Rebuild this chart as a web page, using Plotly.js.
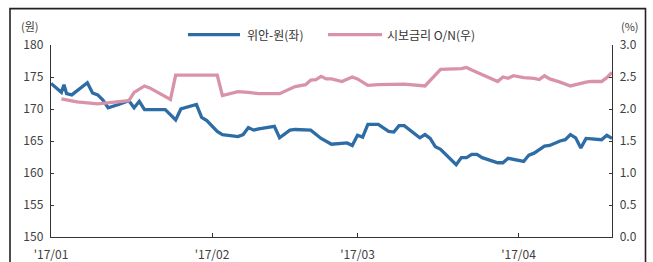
<!DOCTYPE html>
<html>
<head>
<meta charset="utf-8">
<script src="https://cdn.plot.ly/plotly-3.0.1.min.js"></script>
<style>
html,body{margin:0;padding:0;background:#fff;}
#chart{width:653px;height:262px;}
</style>
</head>
<body>
<div id="chart"></div>
<script>
// 위안-원 (left axis, 원)
const cnyDates = ['2017-01-01','2017-01-03','2017-01-03 12:00','2017-01-04','2017-01-05','2017-01-08','2017-01-09','2017-01-10','2017-01-11','2017-01-12','2017-01-14','2017-01-16','2017-01-17','2017-01-18','2017-01-19','2017-01-23','2017-01-25','2017-01-26','2017-01-29','2017-01-30','2017-01-31','2017-02-02','2017-02-03','2017-02-06','2017-02-07','2017-02-08','2017-02-09','2017-02-10','2017-02-13','2017-02-14','2017-02-16','2017-02-17','2017-02-20','2017-02-21','2017-02-22','2017-02-24','2017-02-27','2017-02-28','2017-03-01','2017-03-02','2017-03-03','2017-03-05','2017-03-07','2017-03-08','2017-03-09','2017-03-10','2017-03-13','2017-03-14','2017-03-15','2017-03-16','2017-03-17','2017-03-20','2017-03-21','2017-03-22','2017-03-23','2017-03-24','2017-03-25','2017-03-28','2017-03-29','2017-03-30','2017-04-02','2017-04-03','2017-04-04','2017-04-06','2017-04-07','2017-04-09','2017-04-10','2017-04-11','2017-04-12','2017-04-13','2017-04-14','2017-04-17','2017-04-18','2017-04-19'];
const cnyValues = [174.0,172.6,173.8,172.4,172.2,174.1,172.5,172.2,171.4,170.2,170.7,171.3,170.2,171.2,169.9,169.9,168.3,170.0,170.7,168.7,168.2,166.5,166.0,165.7,166.0,167.1,166.7,166.9,167.3,165.5,166.7,166.8,166.7,166.0,165.4,164.5,164.7,164.3,165.9,165.6,167.6,167.6,166.5,166.4,167.4,167.4,165.5,166.0,165.4,164.1,163.7,161.3,162.4,162.4,162.9,162.9,162.4,161.6,161.6,162.3,161.8,162.8,163.1,164.2,164.3,165.0,165.2,166.0,165.5,163.9,165.4,165.2,165.9,165.4];

// 시보금리 O/N (right axis, %)
const shiborDates = ['2017-01-03','2017-01-06','2017-01-10','2017-01-13','2017-01-16','2017-01-17','2017-01-19','2017-01-20','2017-01-23','2017-01-24','2017-01-25','2017-02-02','2017-02-03','2017-02-06','2017-02-08','2017-02-10','2017-02-14','2017-02-16','2017-02-17','2017-02-19','2017-02-20','2017-02-21','2017-02-22','2017-02-23','2017-02-24','2017-02-26','2017-02-28','2017-03-01','2017-03-03','2017-03-05','2017-03-10','2017-03-14','2017-03-15','2017-03-17','2017-03-21','2017-03-22','2017-03-23','2017-03-26','2017-03-28','2017-03-29','2017-03-30','2017-03-31','2017-04-02','2017-04-04','2017-04-05','2017-04-06','2017-04-07','2017-04-09','2017-04-11','2017-04-14','2017-04-15','2017-04-17','2017-04-18','2017-04-19'];
const shiborValues = [2.16,2.11,2.08,2.11,2.13,2.26,2.36,2.33,2.19,2.15,2.53,2.53,2.21,2.27,2.26,2.24,2.24,2.32,2.35,2.38,2.45,2.46,2.51,2.47,2.47,2.43,2.50,2.47,2.37,2.38,2.39,2.36,2.45,2.62,2.63,2.65,2.61,2.51,2.43,2.50,2.48,2.52,2.49,2.48,2.46,2.52,2.47,2.42,2.36,2.42,2.43,2.43,2.49,2.57];

const seriesNames = ['위안-원(좌)', '시보금리 O/N(우)'];
const leftTicks = [150,155,160,165,170,175,180];
const rightTicks = [0.0,0.5,1.0,1.5,2.0,2.5,3.0];
const xTicks = ['2017-01-01','2017-02-01','2017-03-01','2017-04-01'];
const xTickText = ["'17/01","'17/02","'17/03","'17/04"];

const BLUE = '#2E6CA6';
const PINK = '#D993A9';
const FONT = '"Noto Sans CJK KR", "Noto Sans", sans-serif';

const traces = [
  {x: cnyDates, y: cnyValues, name: seriesNames[0], type: 'scatter', mode: 'lines',
   line: {color: BLUE, width: 3.3}, yaxis: 'y'},
  {x: shiborDates, y: shiborValues, name: seriesNames[1], type: 'scatter', mode: 'lines',
   line: {color: PINK, width: 3.3}, yaxis: 'y2'}
];

const W = 653, H = 262, L = 51, R = 612, T = 44.5, B = 237;
const px = x => (x - L) / (R - L);
const py = y => (B - y) / (B - T);

const layout = {
  width: W, height: H,
  margin: {l: L, r: W - R, t: T, b: H - B, pad: 0},
  paper_bgcolor: '#fff', plot_bgcolor: '#fff',
  showlegend: false,
  font: {family: FONT, size: 12, color: '#404040'},
  xaxis: {
    type: 'date', range: ['2017-01-01', '2017-04-19'],
    tickvals: xTicks, ticktext: xTickText,
    ticks: 'inside', ticklen: 4, tickcolor: '#333', tickwidth: 1,
    ticklabelstandoff: 6,
    showline: true, linecolor: '#333', linewidth: 1.3,
    showgrid: false, zeroline: false,
    tickfont: {size: 12, color: '#404040'}
  },
  yaxis: {
    range: [150, 180], tickvals: leftTicks,
    ticks: 'inside', ticklen: 3, tickcolor: '#333',
    ticklabelstandoff: 4,
    showline: true, linecolor: '#333', linewidth: 1.3,
    showgrid: false, zeroline: false,
    tickfont: {size: 12, color: '#404040'}
  },
  yaxis2: {
    range: [0, 3], tickvals: rightTicks, tickformat: '.1f',
    overlaying: 'y', side: 'right',
    ticks: 'inside', ticklen: 3, tickcolor: '#333',
    ticklabelstandoff: 4,
    showline: true, linecolor: '#333', linewidth: 1.3,
    showgrid: false, zeroline: false,
    tickfont: {size: 12, color: '#404040'}
  },
  shapes: [
    {type: 'rect', xref: 'paper', yref: 'paper', x0: px(10), x1: px(645.5), y0: py(275), y1: py(8),
     line: {color: '#222', width: 1.6}, fillcolor: 'rgba(0,0,0,0)', layer: 'below'},
    {type: 'line', xref: 'paper', yref: 'paper', x0: px(188), x1: px(240), y0: py(34), y1: py(34),
     line: {color: BLUE, width: 3.3}},
    {type: 'line', xref: 'paper', yref: 'paper', x0: px(328), x1: px(382), y0: py(34), y1: py(34),
     line: {color: PINK, width: 3.3}}
  ],
  annotations: [
    {xref: 'paper', yref: 'paper', x: px(245), y: py(34), xanchor: 'left', yanchor: 'middle',
     text: seriesNames[0], showarrow: false, font: {size: 12, color: '#333'}},
    {xref: 'paper', yref: 'paper', x: px(385), y: py(34), xanchor: 'left', yanchor: 'middle',
     text: seriesNames[1], showarrow: false, font: {size: 12, color: '#333'}},
    {xref: 'paper', yref: 'paper', x: px(30), y: py(25), xanchor: 'center', yanchor: 'middle',
     text: '(원)', showarrow: false, font: {size: 11, color: '#404040'}},
    {xref: 'paper', yref: 'paper', x: px(630), y: py(25), xanchor: 'center', yanchor: 'middle',
     text: '(%)', showarrow: false, font: {size: 11, color: '#404040'}}
  ]
};

Plotly.newPlot('chart', traces, layout, {displayModeBar: false, staticPlot: true});
</script>
</body>
</html>
